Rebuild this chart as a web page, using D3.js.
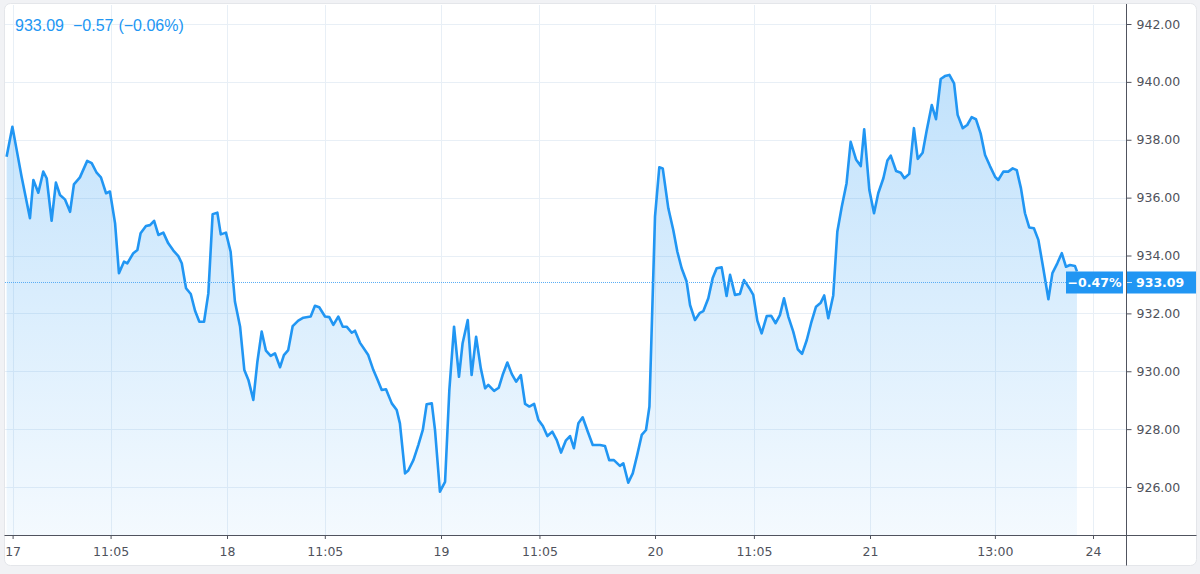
<!DOCTYPE html>
<html>
<head>
<meta charset="utf-8">
<title>Price chart</title>
<style>
  body { margin: 0; background: #f1f2f5; }
  svg { display: block; }
  .axis text { font-family: "DejaVu Sans", Verdana, sans-serif; font-size: 12.5px; fill: #4f525c; }
  .axis line, .axis path { stroke: #50535e; }
</style>
</head>
<body>
<svg width="1200" height="574"></svg>
<script src="https://d3js.org/d3.v7.min.js"></script>
<script>
// time in session-days (0 = 17th open, 1 = 18th ...), price
var times = [
  -0.028, -0.001, 0.019, 0.042, 0.081, 0.097, 0.120, 0.143, 0.159, 0.182, 0.202, 0.221, 0.244, 0.268,
  0.286, 0.314, 0.348, 0.369, 0.392, 0.412, 0.436, 0.454, 0.478, 0.496, 0.520, 0.535, 0.563, 0.582,
  0.597, 0.622, 0.641, 0.660, 0.680, 0.703, 0.726, 0.750, 0.773, 0.789, 0.809, 0.831, 0.851, 0.871,
  0.893, 0.913, 0.933, 0.955, 0.971, 0.995,
  1.017, 1.037, 1.061, 1.081, 1.100, 1.123, 1.142, 1.162, 1.182, 1.204, 1.224, 1.248, 1.266, 1.286,
  1.307, 1.333, 1.357, 1.391, 1.411, 1.431, 1.458, 1.478, 1.497, 1.520, 1.541, 1.559, 1.583, 1.598,
  1.621, 1.660, 1.684, 1.704, 1.723, 1.743, 1.770, 1.793, 1.808, 1.832, 1.847, 1.871, 1.894, 1.915,
  1.933, 1.957, 1.972, 1.995,
  2.019, 2.039, 2.061, 2.084, 2.101, 2.125, 2.143, 2.164, 2.186, 2.206, 2.221, 2.248, 2.270, 2.288,
  2.310, 2.331, 2.351, 2.373, 2.393, 2.413, 2.435, 2.455, 2.476, 2.497, 2.520, 2.541, 2.561, 2.583,
  2.603, 2.621, 2.642, 2.662, 2.686, 2.709, 2.743, 2.766, 2.786, 2.808, 2.836, 2.852, 2.875, 2.896,
  2.917, 2.938, 2.958, 2.974,
  3.000, 3.020, 3.036, 3.062, 3.085, 3.104, 3.124, 3.147, 3.163, 3.186, 3.209, 3.225, 3.248, 3.268,
  3.287, 3.310, 3.333, 3.349, 3.372, 3.395, 3.414, 3.439, 3.457, 3.476, 3.496, 3.520, 3.540, 3.561,
  3.581, 3.600, 3.620, 3.643, 3.664, 3.684, 3.706, 3.726, 3.749, 3.771, 3.787, 3.806, 3.829, 3.848,
  3.868, 3.891, 3.910, 3.935, 3.957, 3.973, 3.997,
  4.018, 4.037, 4.060, 4.078, 4.093, 4.117, 4.138, 4.154, 4.176, 4.197, 4.214, 4.236, 4.254, 4.277,
  4.296, 4.317, 4.336, 4.356, 4.377, 4.393, 4.416, 4.436, 4.456, 4.475, 4.496, 4.516, 4.538, 4.561,
  4.575, 4.598, 4.620, 4.640, 4.658, 4.677, 4.695, 4.714, 4.735, 4.755, 4.777, 4.800, 4.818, 4.840,
  4.860, 4.879, 4.897, 4.919, 4.928
];
var prices = [
  937.41, 938.45, 937.65, 936.72, 935.29, 936.61, 936.17, 936.90, 936.67, 935.20, 936.52, 936.09, 935.94, 935.51,
  936.46, 936.70, 937.27, 937.19, 936.86, 936.70, 936.15, 936.21, 935.11, 933.39, 933.79, 933.73, 934.08, 934.19,
  934.77, 935.02, 935.05, 935.20, 934.71, 934.79, 934.42, 934.17, 933.98, 933.73, 932.87, 932.67, 932.09, 931.71,
  931.71, 932.69, 935.43, 935.48, 934.73, 934.79,
  934.13, 932.41, 931.55, 930.04, 929.70, 929.01, 930.33, 931.37, 930.71, 930.53, 930.62, 930.14, 930.56, 930.73,
  931.56, 931.75, 931.85, 931.89, 932.26, 932.21, 931.89, 931.87, 931.60, 931.89, 931.54, 931.54, 931.33, 931.40,
  930.99, 930.56, 930.04, 929.70, 929.35, 929.38, 928.89, 928.66, 928.20, 926.47, 926.57, 926.93, 927.45, 927.97,
  928.86, 928.89, 927.97, 925.84,
  926.18, 929.35, 931.54, 929.81, 930.97, 931.77, 929.87, 931.19, 930.10, 929.41, 929.53, 929.32, 929.43, 929.87,
  930.30, 929.90, 929.64, 929.87, 928.87, 928.78, 928.87, 928.32, 928.11, 927.76, 927.91, 927.62, 927.19, 927.60,
  927.76, 927.34, 928.20, 928.41, 927.91, 927.45, 927.45, 927.42, 926.93, 926.93, 926.73, 926.82, 926.15, 926.47,
  927.11, 927.80, 927.97, 928.78,
  935.34, 937.05, 937.01, 935.63, 934.88, 934.13, 933.56, 933.10, 932.29, 931.77, 932.02, 932.08, 932.52, 933.21,
  933.56, 933.59, 932.60, 933.33, 932.64, 932.67, 933.15, 932.87, 932.64, 931.75, 931.31, 931.91, 931.92, 931.66,
  931.94, 932.52, 931.89, 931.37, 930.76, 930.60, 931.08, 931.66, 932.23, 932.37, 932.62, 931.83, 932.62, 934.82,
  935.66, 936.50, 937.93, 937.32, 937.09, 938.36, 936.26,
  935.46, 936.15, 936.67, 937.28, 937.45, 936.92, 936.86, 936.67, 936.82, 938.40, 937.34, 937.55, 938.31, 939.20,
  938.71, 940.10, 940.20, 940.24, 939.95, 938.86, 938.40, 938.51, 938.78, 938.71, 938.22, 937.47, 937.09, 936.72,
  936.61, 936.90, 936.90, 937.01, 936.95, 936.32, 935.46, 934.97, 934.94, 934.54, 933.56, 932.49, 933.39, 933.73,
  934.08, 933.61, 933.67, 933.64, 933.45
];
var dayStarts = [0, 1, 2, 3, 4, 5];
var tickTimes = [0, 0.457, 1, 1.457, 2, 2.46, 3, 3.46, 4, 4.56, 5];
var tickLabels = ["17", "11:05", "18", "11:05", "19", "11:05", "20", "11:05", "21", "13:00", "24"];
var priceTicks = [926, 928, 930, 932, 934, 936, 938, 940, 942];
var lastPrice = 933.09, change = -0.57, changePct = -0.06, rangePct = -0.47;

var svg = d3.select("svg");
var plotL = 5, plotR = 1126, plotT = 5, plotB = 535;

// sessions are not all the same width on screen, so piecewise scale
var x = d3.scaleLinear()
    .domain(dayStarts)
    .range([12.6, 227, 441, 655, 870, 1093]);
var y = d3.scaleLinear()
    .domain([926, 942])
    .range([487, 24]);

var data = times.map(function(t, i) { return { t: t, v: prices[i] }; });

// card
svg.append("rect")
    .attr("x", 4.5).attr("y", 3.5)
    .attr("width", 1192).attr("height", 562)
    .attr("rx", 6)
    .attr("fill", "#fff")
    .attr("stroke", "#e4e6ea");

var defs = svg.append("defs");
defs.append("clipPath").attr("id", "plot")
  .append("rect")
    .attr("x", plotL).attr("y", plotT)
    .attr("width", plotR - plotL).attr("height", plotB - plotT);
var grad = defs.append("linearGradient")
    .attr("id", "fillGrad")
    .attr("gradientUnits", "userSpaceOnUse")
    .attr("x1", 0).attr("y1", y(940.3)).attr("x2", 0).attr("y2", plotB);
grad.append("stop").attr("offset", 0).attr("stop-color", "#2196f3").attr("stop-opacity", 0.28);
grad.append("stop").attr("offset", 1).attr("stop-color", "#2196f3").attr("stop-opacity", 0.05);

// grid
svg.append("g").selectAll("line")
  .data(priceTicks)
  .enter().append("line")
    .attr("x1", plotL).attr("x2", plotR)
    .attr("y1", function(d) { return Math.round(y(d)) + 0.5; })
    .attr("y2", function(d) { return Math.round(y(d)) + 0.5; })
    .attr("stroke", "#e8eff6");
svg.append("g").selectAll("line")
  .data(tickTimes)
  .enter().append("line")
    .attr("x1", function(d) { return Math.round(x(d)) + 0.5; })
    .attr("x2", function(d) { return Math.round(x(d)) + 0.5; })
    .attr("y1", plotT).attr("y2", plotB)
    .attr("stroke", "#e8eff6");

var plot = svg.append("g").attr("clip-path", "url(#plot)");

plot.append("path")
    .datum(data)
    .attr("fill", "url(#fillGrad)")
    .attr("d", d3.area()
        .x(function(d) { return x(d.t); })
        .y0(plotB)
        .y1(function(d) { return y(d.v); }));

plot.append("path")
    .datum(data)
    .attr("fill", "none")
    .attr("stroke", "#2196f3")
    .attr("stroke-width", 2.6)
    .attr("stroke-linejoin", "round")
    .attr("d", d3.line()
        .x(function(d) { return x(d.t); })
        .y(function(d) { return y(d.v); }));

// last price dotted line
var ly = Math.round(y(lastPrice)) + 0.5;
svg.append("line")
    .attr("x1", plotL).attr("x2", 1066)
    .attr("y1", ly).attr("y2", ly)
    .attr("stroke", "#5aaef5")
    .attr("stroke-dasharray", "1,1");

// axes
var xAxis = svg.append("g")
    .attr("class", "axis")
    .attr("transform", "translate(0," + plotB + ")")
    .call(d3.axisBottom(x)
        .tickValues(tickTimes)
        .tickSize(4)
        .tickPadding(8)
        .tickFormat(function(d, i) { return tickLabels[i]; }));
xAxis.select(".domain").remove();
svg.append("line")
    .attr("x1", 4.5).attr("x2", 1196.5)
    .attr("y1", plotB + 0.5).attr("y2", plotB + 0.5)
    .attr("stroke", "#50535e");

var yAxis = svg.append("g")
    .attr("class", "axis")
    .attr("transform", "translate(" + (plotR + 0.5) + ",0)")
    .call(d3.axisRight(y)
        .tickValues(priceTicks)
        .tickSize(5)
        .tickPadding(5)
        .tickFormat(function(d) { return d.toFixed(2); }));
yAxis.select(".domain").remove();
svg.append("line")
    .attr("x1", plotR + 0.5).attr("x2", plotR + 0.5)
    .attr("y1", 4).attr("y2", 565.5)
    .attr("stroke", "#50535e");

// price badges
svg.append("rect")
    .attr("x", 1066).attr("y", ly - 11)
    .attr("width", 57).attr("height", 22)
    .attr("fill", "#2196f3");
svg.append("text")
    .attr("x", 1094.5).attr("y", ly + 4.5)
    .attr("text-anchor", "middle")
    .attr("font-family", "DejaVu Sans, Verdana, sans-serif")
    .attr("font-size", "12.5px")
    .attr("font-weight", "bold")
    .attr("fill", "#fff")
    .text("\u2212" + Math.abs(rangePct).toFixed(2) + "%");
svg.append("rect")
    .attr("x", plotR + 1).attr("y", ly - 11)
    .attr("width", 1196 - plotR - 1).attr("height", 22)
    .attr("fill", "#2196f3");
svg.append("line")
    .attr("x1", plotR + 1).attr("x2", plotR + 6)
    .attr("y1", ly).attr("y2", ly)
    .attr("stroke", "#cfe6fb");
svg.append("text")
    .attr("x", 1136).attr("y", ly + 4.5)
    .attr("font-family", "DejaVu Sans, Verdana, sans-serif")
    .attr("font-size", "12.5px")
    .attr("font-weight", "bold")
    .attr("fill", "#fff")
    .text(lastPrice.toFixed(2));

// header
var head = svg.append("text")
    .attr("x", 15).attr("y", 31)
    .attr("font-family", "Liberation Sans, Arial, sans-serif")
    .attr("font-size", "16px")
    .attr("fill", "#2196f3");
head.append("tspan").text(lastPrice.toFixed(2));
head.append("tspan").attr("dx", 9).text("\u2212" + Math.abs(change).toFixed(2));
head.append("tspan").attr("dx", 5).text("(\u2212" + Math.abs(changePct).toFixed(2) + "%)");
</script>
</body>
</html>
